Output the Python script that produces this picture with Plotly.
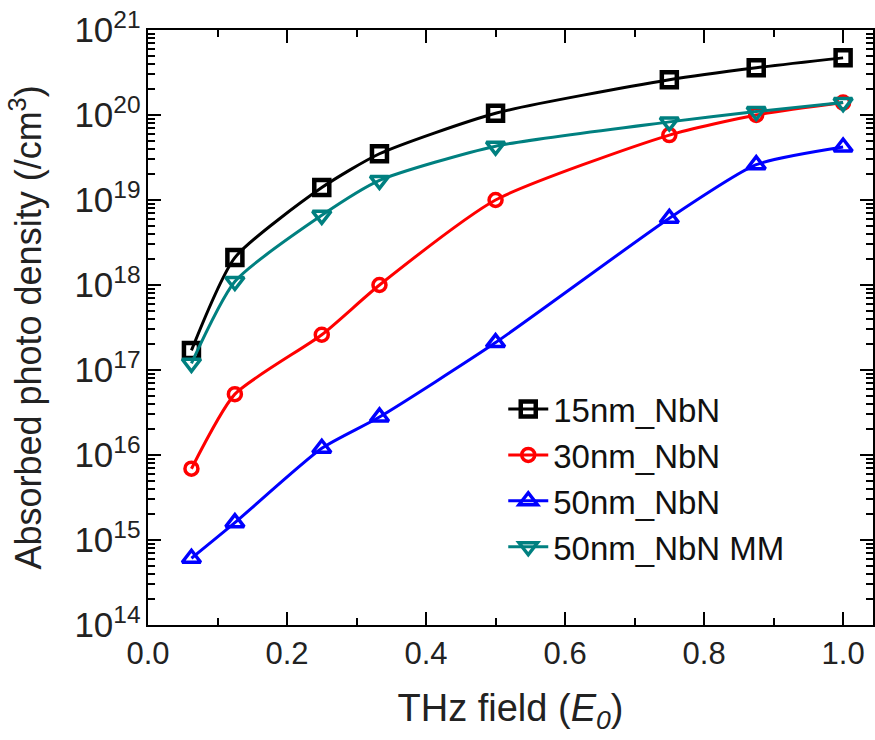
import plotly.graph_objects as go

# THz field strength (in units of E0)
field = [0.0625, 0.125, 0.25, 0.333, 0.5, 0.75, 0.875, 1.0]

# Absorbed photon density (/cm^3) for each sample
nbn_15 = [1.7e17, 2.1e18, 1.4e19, 3.5e19, 1.05e20, 2.6e20, 3.6e20, 4.7e20]
nbn_30 = [6.9e15, 5.2e16, 2.6e17, 1.0e18, 1.0e19, 5.8e19, 1.0e20, 1.4e20]
nbn_50 = [6.1e14, 1.6e15, 1.2e16, 2.8e16, 2.1e17, 6.1e18, 2.6e19, 4.2e19]
nbn_50_mm = [1.2e17, 1.1e18, 6.6e18, 1.7e19, 4.3e19, 8.3e19, 1.1e20, 1.4e20]

series_names = ["15nm_NbN", "30nm_NbN", "50nm_NbN", "50nm_NbN MM"]
series_values = [nbn_15, nbn_30, nbn_50, nbn_50_mm]
series_colors = ["#000000", "#ff0000", "#0000ff", "#008080"]
series_symbols = ["square-open", "circle-open", "triangle-up-open", "triangle-down-open"]
marker_sizes = [15, 13, 16, 16]
marker_widths = [4.5, 3.5, 3.5, 3.5]

FONT = "Liberation Sans, Arial, sans-serif"

fig = go.Figure()
for name, vals, color, sym, ms, mw in zip(series_names, series_values, series_colors,
                                          series_symbols, marker_sizes, marker_widths):
    fig.add_trace(go.Scatter(
        x=field, y=vals, name=name, mode="lines+markers",
        line=dict(color=color, width=3, shape="spline", smoothing=0.6),
        marker=dict(symbol=sym, size=ms, color=color, line=dict(color=color, width=mw)),
    ))

fig.update_layout(
    width=875, height=740,
    margin=dict(l=148, r=0, t=30, b=115),
    paper_bgcolor="white", plot_bgcolor="white",
    font=dict(family=FONT, size=30, color="#222222"),
    showlegend=True,
    legend=dict(
        x=0.49, y=0.41, xanchor="left", yanchor="top",
        bgcolor="rgba(0,0,0,0)", borderwidth=0,
        font=dict(family=FONT, size=33, color="#111111"),
        itemwidth=40,
    ),
)

# linear field axis: labelled every 0.2, minor ticks every 0.1
fig.update_xaxes(
    range=[0, 1.043], showgrid=False, zeroline=False,
    showline=True, linecolor="#000000", linewidth=1.6, mirror="allticks",
    tickmode="linear", tick0=0, dtick=0.2, tickformat=".1f",
    ticks="inside", ticklen=13, tickwidth=2, tickcolor="#000000",
    minor=dict(ticks="inside", ticklen=7, tickwidth=2, tickcolor="#000000", dtick=0.1, tick0=0),
    tickfont=dict(family=FONT, size=31, color="#222222"),
    title=dict(text="THz field (<i>E<sub>0</sub></i>)", font=dict(family=FONT, size=38, color="#222222"),
               standoff=24),
)

# log density axis: one label per decade as 10^n, minor ticks at 2..9
fig.update_yaxes(
    type="log", range=[14, 21], showgrid=False, zeroline=False,
    showline=True, linecolor="#000000", linewidth=1.6, mirror="allticks",
    tickmode="linear", tick0=0, dtick=1, exponentformat="power",
    ticks="inside", ticklen=13, tickwidth=2, tickcolor="#000000",
    minor=dict(ticks="inside", ticklen=7, tickwidth=2, tickcolor="#000000", dtick="D1"),
    tickfont=dict(family=FONT, size=28, color="#222222"),
    title=dict(text="Absorbed photo density (/cm<sup>3</sup>)",
               font=dict(family=FONT, size=36, color="#222222"), standoff=22),
)

fig.write_html("out.html")
